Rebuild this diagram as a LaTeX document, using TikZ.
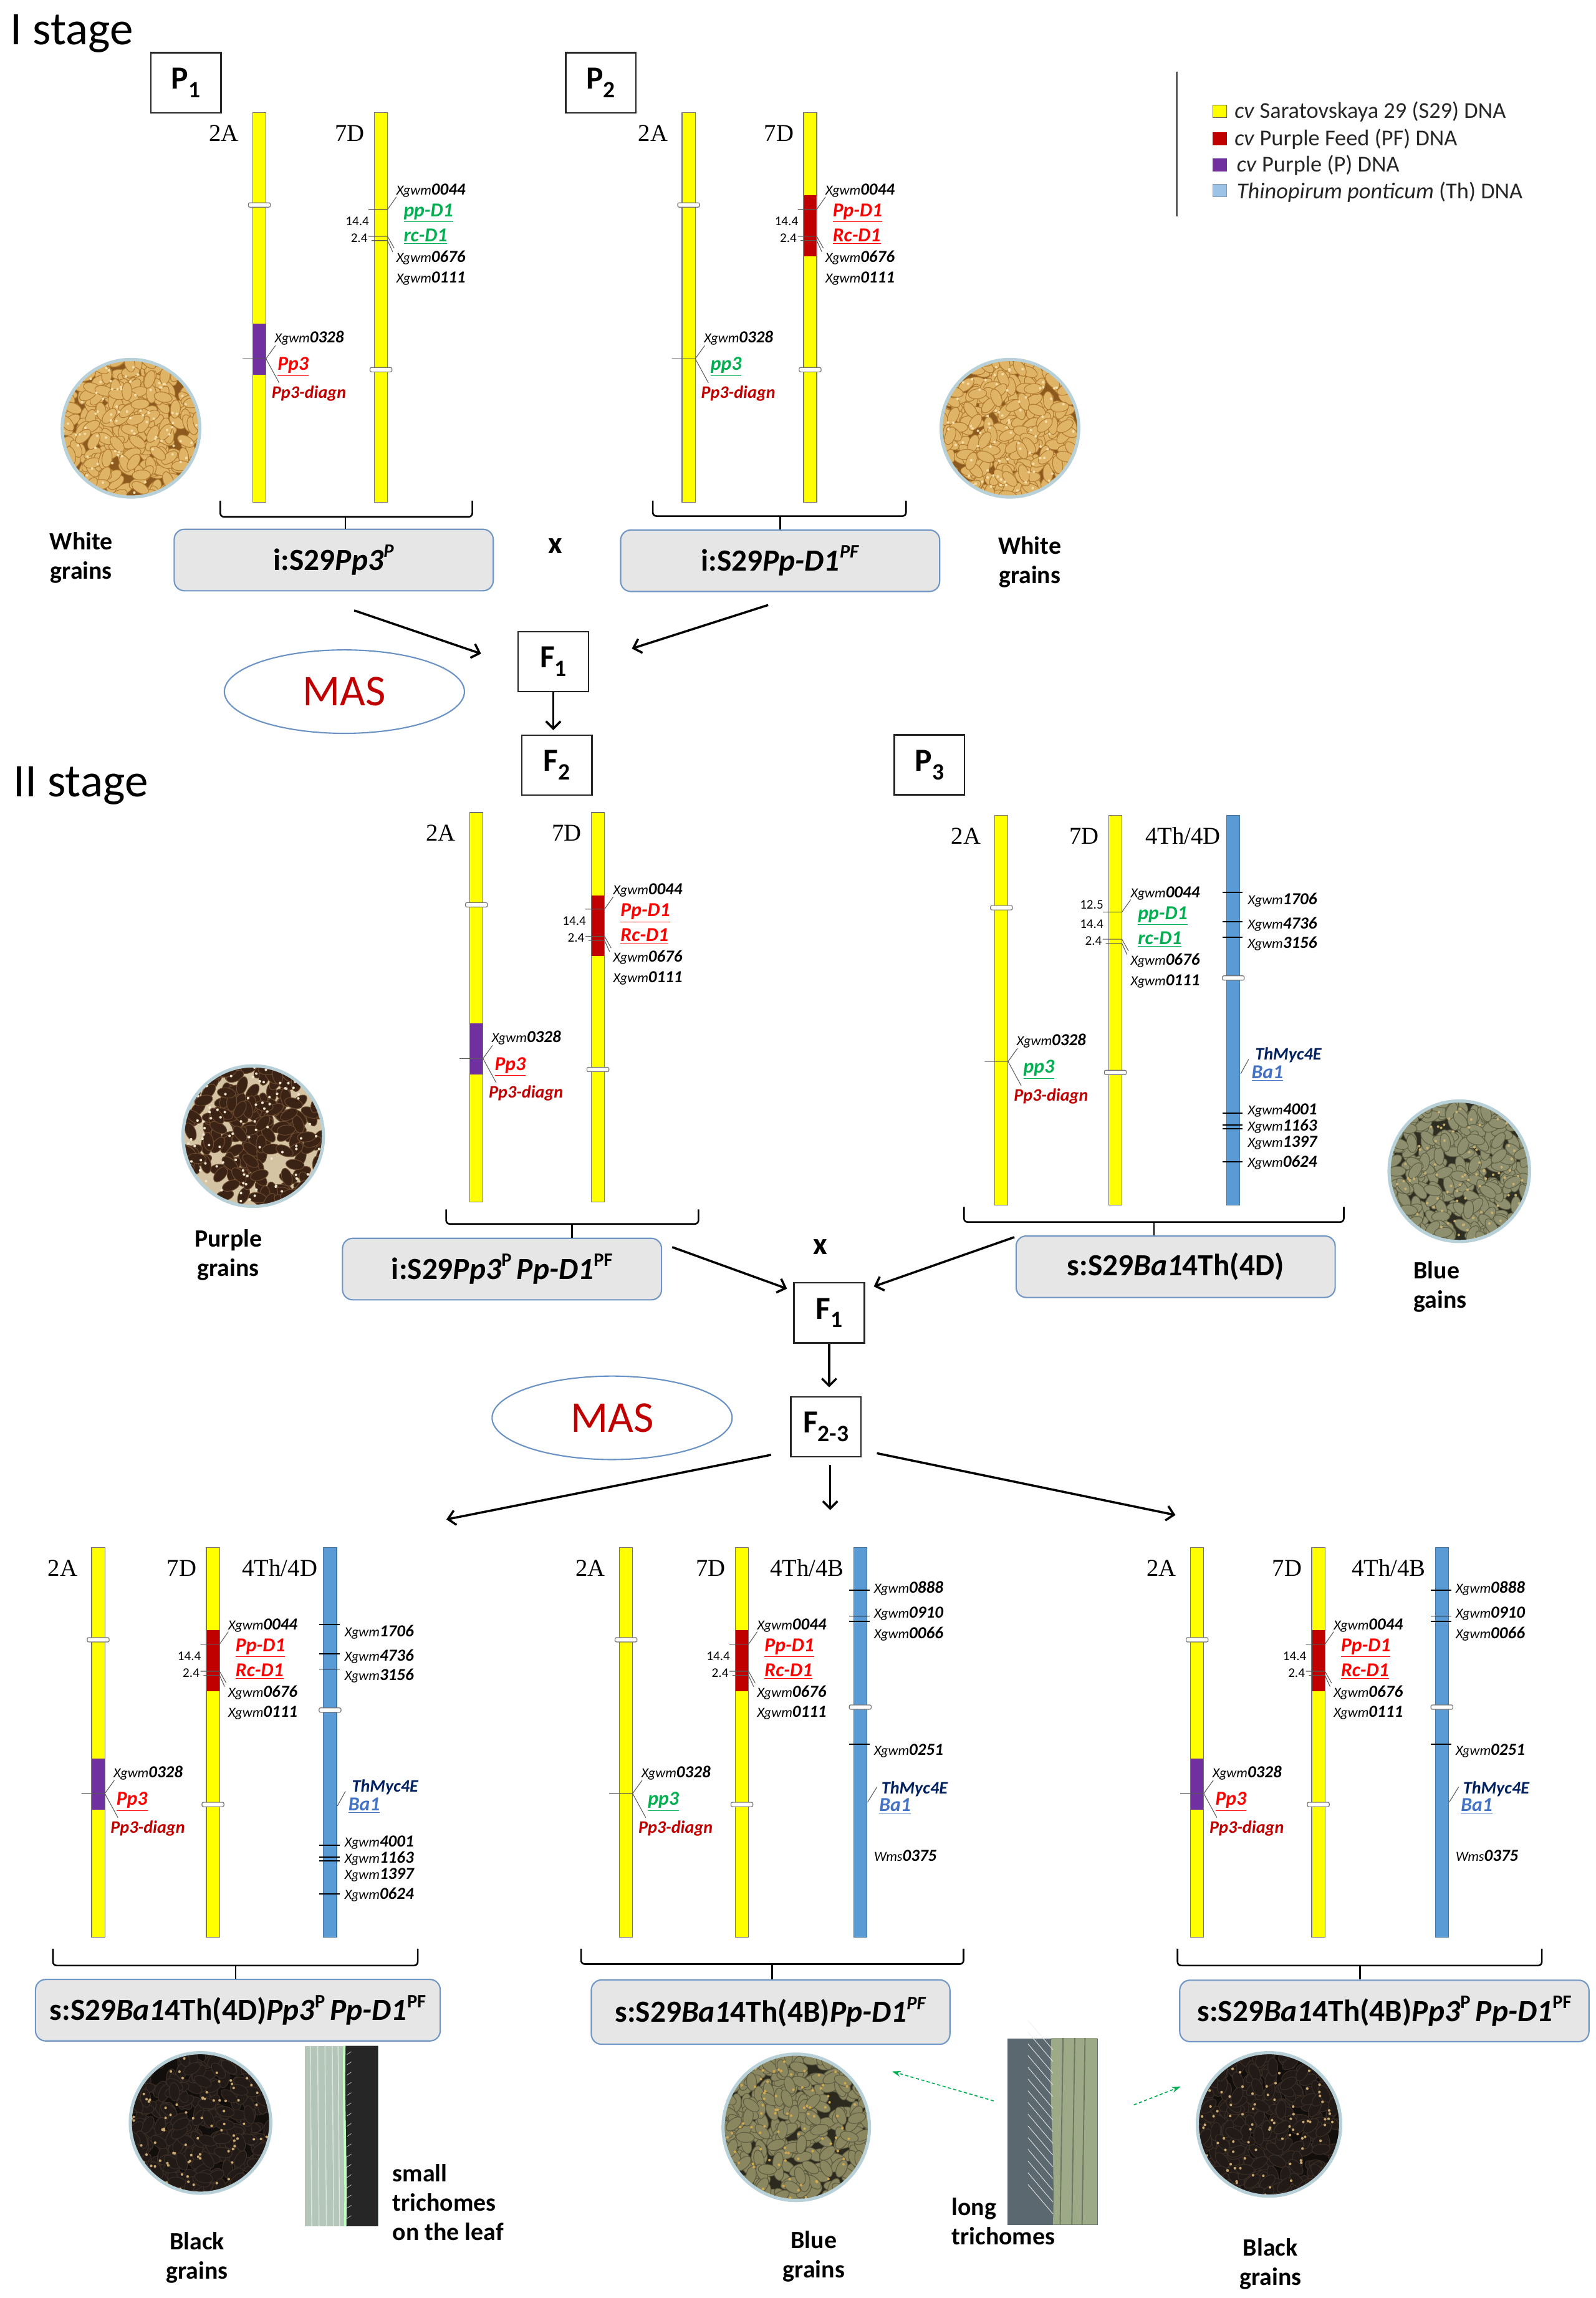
\documentclass[tikz,border=0pt]{standalone}
\usepackage{fontspec}
\setmainfont{Carlito}
\newfontfamily\serifnm{Liberation Serif}
\usetikzlibrary{shapes.geometric,arrows.meta,calc}

\definecolor{cyel}{HTML}{FFFF00}
\definecolor{cpf}{HTML}{C00000}
\definecolor{cpur}{HTML}{7030A0}
\definecolor{cth}{HTML}{5B9BD5}
\definecolor{cthl}{HTML}{9DC3E6}
\definecolor{tgreen}{HTML}{00B050}
\definecolor{tred}{HTML}{FF0000}
\definecolor{tdred}{HTML}{C00000}
\definecolor{tnavy}{HTML}{002060}
\definecolor{tba}{HTML}{4472C4}
\definecolor{boxf}{HTML}{E6E6E6}
\definecolor{boxb}{HTML}{7096C4}
\definecolor{ellc}{HTML}{6A92C4}
\definecolor{ringc}{HTML}{B8D0D8}
\definecolor{leafg}{HTML}{B4C6B8}
\definecolor{leafb}{HTML}{9CAA88}
% grain colours
\definecolor{wBase}{HTML}{8C5A1E}\definecolor{wGr}{HTML}{E0B466}\definecolor{wEd}{HTML}{B07A30}\definecolor{wHi}{HTML}{F4DCA4}
\definecolor{pBase}{HTML}{D4C4A4}\definecolor{pGr}{HTML}{3A2214}\definecolor{pEd}{HTML}{6A4A30}\definecolor{pHi}{HTML}{F0E4CC}
\definecolor{bBase}{HTML}{2E2E22}\definecolor{bGr}{HTML}{8E8F6E}\definecolor{bEd}{HTML}{5E5E44}\definecolor{bHi}{HTML}{C8B070}
\definecolor{kBase}{HTML}{120E0C}\definecolor{kGr}{HTML}{221A16}\definecolor{kEd}{HTML}{3A2E26}\definecolor{kHi}{HTML}{C8A870}
\definecolor{mBase}{HTML}{2C2A1E}\definecolor{mGr}{HTML}{8A8660}\definecolor{mEd}{HTML}{5C5A40}\definecolor{mHi}{HTML}{D0A850}

\newcommand\mkr[2]{{\fontsize{9.5}{10}\selectfont\itshape #1}{\fontsize{11.5}{12}\selectfont\bfseries\itshape #2}}
\newcommand\gn[2]{\textcolor{#1}{\fontsize{13.5}{14}\selectfont\bfseries\itshape\underline{#2}}}
\newcommand\sps[1]{\raisebox{0.42em}{\fontsize{13}{13}\selectfont #1}}
\newcommand\sbs[1]{\raisebox{-0.27em}{\fontsize{16}{16}\selectfont #1}}

\tikzset{
 chrom/.style={draw=black!55, line width=0.5pt, minimum width=9pt, minimum height=266pt, inner sep=0pt, outer sep=0pt, anchor=north west},
 cen/.style={draw=black!55, fill=white, line width=0.5pt, rounded corners=1pt},
 lead/.style={draw=black!65, line width=0.45pt},
 tk/.style={draw=black, line width=0.8pt},
 lbl/.style={anchor=base west, inner sep=0pt, outer sep=0pt},
 cname/.style={anchor=base east, inner sep=0pt, font=\serifnm\fontsize{16.5}{17}\selectfont},
 num/.style={anchor=base east, inner sep=0pt, font=\fontsize{9}{9}\selectfont},
 genbox/.style={draw=boxb, fill=boxf, rounded corners=7pt, line width=0.9pt, minimum height=42pt, inner sep=0pt, font=\fontsize{21}{24}\selectfont\bfseries},
 gbox/.style={draw=black!85, line width=1pt, minimum width=48pt, minimum height=41pt, inner sep=0pt, font=\fontsize{22}{24}\selectfont\bfseries},
 brk/.style={draw=black, line width=1.1pt, rounded corners=2.5pt},
 arr/.style={draw=black, line width=1.5pt, -{Straight Barb[length=5pt,width=10pt]}},
 garr/.style={draw=tgreen, line width=0.7pt, dash pattern=on 2.2pt off 1.6pt, -{Stealth[length=6pt,width=4pt]}},
 masell/.style={ellipse, draw=ellc, line width=0.9pt, minimum width=164pt, minimum height=57pt, inner sep=0pt, font=\fontsize{30}{32}\selectfont, text=tdred},
 captxt/.style={align=center, inner sep=0pt, font=\fontsize{17}{20}\selectfont\bfseries},
}

% 2A chromosome: name, x, y, 1=Pp3 (purple) / 0=pp3
\newcommand\chrA[4]{%
 \node[chrom, fill=cyel] (#1) at (#2,#3) {};
 \begin{scope}[shift={(#2,#3)}]
  \ifnum#4=1 \fill[cpur] (0,144) rectangle (9,179); \fi
  \draw[black!55, line width=0.5pt] (0,0) rectangle (9,266);
  \draw[cen] (-3,61.5) rectangle (12,64.5);
  \draw[lead] (-7,168) -- (9,168) -- (15.5,159);
  \draw[lead] (9,168) -- (18,184.5);
  \node[lbl] (#1-m1) at (15,157) {\mkr{Xgwm}{0328}};
  \ifnum#4=1 \node[lbl] (#1-g1) at (17,176) {\gn{tred}{Pp3}};
  \else \node[lbl] (#1-g1) at (19.5,176) {\gn{tgreen}{pp3}}; \fi
  \node[lbl] (#1-g2) at (13,195) {\textcolor{tdred}{\fontsize{12}{12}\selectfont\bfseries\itshape Pp3-diagn}};
  \node[cname] (#1-n) at (-9.5,19.5) {2A};
 \end{scope}}

% 7D chromosome: name, x, y, 1=PF red / 0=green / 2=green with 12.5
\newcommand\chrD[4]{%
 \node[chrom, fill=cyel] (#1) at (#2,#3) {};
 \begin{scope}[shift={(#2,#3)}]
  \ifnum#4=1 \fill[cpf] (0,56.5) rectangle (9,98); \fi
  \draw[black!55, line width=0.5pt] (0,0) rectangle (9,266);
  \draw[cen] (-3,174) rectangle (12,177);
  \draw[lead] (-4,66) -- (9,66) -- (15,57.5);
  \draw[lead] (-4,84.5) -- (9,84.5) -- (13.5,92.5);
  \draw[lead] (-2,87.3) -- (9,87.3) -- (12.5,95);
  \node[num] (#1-k1) at (-3.5,77) {14.4};
  \node[num] (#1-k2) at (-4.5,88.5) {2.4};
  \ifnum#4=2 \node[num] (#1-k0) at (-3.5,64) {12.5}; \fi
  \node[lbl] (#1-m1) at (15,56) {\mkr{Xgwm}{0044}};
  \ifnum#4=1
   \node[lbl] (#1-g1) at (20,71) {\gn{tred}{Pp-D1}};
   \node[lbl] (#1-g2) at (20,88) {\gn{tred}{Rc-D1}};
  \else
   \node[lbl] (#1-g1) at (20,71) {\gn{tgreen}{pp-D1}};
   \node[lbl] (#1-g2) at (20,88) {\gn{tgreen}{rc-D1}};
  \fi
  \node[lbl] (#1-m2) at (15,102) {\mkr{Xgwm}{0676}};
  \node[lbl] (#1-m3) at (15,116) {\mkr{Xgwm}{0111}};
  \node[cname] (#1-n) at (-6.5,19.5) {7D};
 \end{scope}}

% 4Th/4D chromosome
\newcommand\chrThD[3]{%
 \node[chrom, fill=cth, draw=cth!75!black] (#1) at (#2,#3) {};
 \begin{scope}[shift={(#2,#3)}]
  \draw[cen] (-3,109.5) rectangle (12,112.5);
  \foreach \t in {52.4,72.5,83,203.3,211.5,214,236.5} \draw[tk] (-3,\t) -- (11,\t);
  \node[lbl] (#1-m1) at (14.5,61) {\mkr{Xgwm}{1706}};
  \node[lbl] (#1-m2) at (14.5,77.5) {\mkr{Xgwm}{4736}};
  \node[lbl] (#1-m3) at (14.5,90.5) {\mkr{Xgwm}{3156}};
  \draw[lead] (9.5,176.5) -- (15,166.5);
  \node[lbl] (#1-g1) at (19.5,167) {\textcolor{tnavy}{\fontsize{12}{12}\selectfont\bfseries\itshape ThMyc4E}};
  \node[lbl] (#1-g2) at (17,179.5) {\gn{tba}{Ba1}};
  \node[lbl] (#1-m4) at (14.5,204.5) {\mkr{Xgwm}{4001}};
  \node[lbl] (#1-m5) at (14.5,215.5) {\mkr{Xgwm}{1163}};
  \node[lbl] (#1-m6) at (14.5,226.5) {\mkr{Xgwm}{1397}};
  \node[lbl] (#1-m7) at (14.5,240) {\mkr{Xgwm}{0624}};
  \node[cname] (#1-n) at (-4,19.5) {4Th/4D};
 \end{scope}}

% 4Th/4B chromosome
\newcommand\chrThB[3]{%
 \node[chrom, fill=cth, draw=cth!75!black] (#1) at (#2,#3) {};
 \begin{scope}[shift={(#2,#3)}]
  \draw[cen] (-3,107.5) rectangle (12,110.5);
  \foreach \t in {29.3,46.8,50.3,134.4} \draw[tk] (-3,\t) -- (11,\t);
  \node[lbl] (#1-m1) at (14,31) {\mkr{Xgwm}{0888}};
  \node[lbl] (#1-m2) at (14,48) {\mkr{Xgwm}{0910}};
  \node[lbl] (#1-m3) at (14,62) {\mkr{Xgwm}{0066}};
  \node[lbl] (#1-m4) at (14,142) {\mkr{Xgwm}{0251}};
  \draw[lead] (9.5,174) -- (16,163.5);
  \node[lbl] (#1-g1) at (19,168) {\textcolor{tnavy}{\fontsize{12}{12}\selectfont\bfseries\itshape ThMyc4E}};
  \node[lbl] (#1-g2) at (17.5,180) {\gn{tba}{Ba1}};
  \node[lbl] (#1-m5) at (14,214) {\mkr{Wms}{0375}};
  \node[cname] (#1-n) at (-6.5,19.5) {4Th/4B};
 \end{scope}}

% bracket: xL xR yTop yH xM box
\newcommand\brk[6]{%
 \draw[brk] (#1,#3) -- (#1,#4) -- (#2,#4) -- (#2,#3);
 \coordinate (#6-bt) at (#5,#4);
 \draw[brk] (#6-bt) -- (#6-bt |- #6.north);}

% dish of grains: name cx cy r colour-prefix seed count
\newcommand\dish[7]{%
 \node[circle, inner sep=0pt, minimum size={2*#4pt}] (#1) at (#2,#3) {};
 \begin{scope}
  \clip (#2,#3) circle[radius=#4];
  \fill[#5Base] (#2,#3) circle[radius=#4];
  \pgfmathsetseed{#6}
  \foreach \k in {1,...,#7}{
   \pgfmathsetmacro\gx{#2+(2*rnd-1)*#4}
   \pgfmathsetmacro\gy{#3+(2*rnd-1)*#4}
   \pgfmathsetmacro\ga{180*rnd}
   \filldraw[fill=#5Gr, draw=#5Ed, line width=0.45pt, rotate around={\ga:(\gx,\gy)}] (\gx,\gy) ellipse[x radius=6.3, y radius=3.4];
  }
  \foreach \k in {1,...,110}{
   \pgfmathsetmacro\gx{#2+(2*rnd-1)*#4}
   \pgfmathsetmacro\gy{#3+(2*rnd-1)*#4}
   \fill[#5Hi] (\gx,\gy) circle[radius=0.9];
  }
 \end{scope}
 \draw[ringc, line width=2.2pt] (#2,#3) circle[radius=#4];}

\begin{document}
\begin{tikzpicture}[x=1pt,y=-1pt]
\useasboundingbox (0,0) rectangle (1090,1569.6);

% ---------- titles
\node[anchor=base west, inner sep=0pt, font=\fontsize{32}{34}\selectfont] (st1) at (7,30.5) {I stage};
\node[anchor=base west, inner sep=0pt, font=\fontsize{32}{34}\selectfont] (st2) at (9,544) {II stage};

% ---------- legend
\draw[black!65, line width=1pt] (804,49) -- (804,148);
\node[draw=black!60, line width=0.4pt, fill=cyel, minimum width=9.5pt, minimum height=8.5pt, inner sep=0pt, anchor=south west] (lg1) at (828.5,80.5) {};
\node[draw=cpf, line width=0.4pt, fill=cpf, minimum width=9.5pt, minimum height=8.5pt, inner sep=0pt, anchor=south west] (lg2) at (828.5,99.2) {};
\node[draw=cpur, line width=0.4pt, fill=cpur, minimum width=9.5pt, minimum height=8.5pt, inner sep=0pt, anchor=south west] (lg3) at (828.5,117) {};
\node[draw=cthl!80!black, line width=0.3pt, fill=cthl, minimum width=9.5pt, minimum height=8.5pt, inner sep=0pt, anchor=south west] (lg4) at (828.5,134.5) {};
\node[lbl, font=\fontsize{15.5}{16}\selectfont, text=black!85] (lt1) at (843.5,80.5) {\textit{cv} Saratovskaya 29 (S29) DNA};
\node[lbl, font=\fontsize{15.5}{16}\selectfont, text=black!85] (lt2) at (843.5,99.5) {\textit{cv} Purple Feed (PF) DNA};
\node[lbl, font=\fontsize{15.5}{16}\selectfont, text=black!85] (lt3) at (845,117.5) {\textit{cv} Purple (P) DNA};
\node[lbl, font=\fontsize{15.5}{16}\selectfont, text=black!85] (lt4) at (845,135.5) {\textit{Thinopirum ponticum} (Th) DNA};

% ---------- generation boxes
\node[gbox] (P1) at (127,56.5) {P\sbs{1}};
\node[gbox] (P2) at (410.5,56.5) {P\sbs{2}};
\node[gbox] (F1a) at (378,452) {F\sbs{1}};
\node[gbox] (F2) at (380.5,522.7) {F\sbs{2}};
\node[gbox] (P3) at (635,522.4) {P\sbs{3}};
\node[gbox] (F1b) at (566.5,896.7) {F\sbs{1}};
\node[gbox] (F23) at (564.3,974.6) {F\sbs{2-3}};

% ---------- chromosomes
\chrA{p1a}{172.7}{77}{1}
\chrD{p1d}{255.8}{77}{0}
\chrA{p2a}{466}{77}{0}
\chrD{p2d}{549}{77}{1}
\chrA{f2a}{321}{555}{1}
\chrD{f2d}{404}{555}{1}
\chrA{p3a}{679.7}{557}{0}
\chrD{p3d}{757.5}{557}{2}
\chrThD{p3t}{838.1}{557}
\chrA{b1a}{62.6}{1057}{1}
\chrD{b1d}{141}{1057}{1}
\chrThD{b1t}{221}{1057}
\chrA{b2a}{423.2}{1057}{0}
\chrD{b2d}{502.4}{1057}{1}
\chrThB{b2t}{583.2}{1057}
\chrA{b3a}{813.4}{1057}{1}
\chrD{b3d}{896.2}{1057}{1}
\chrThB{b3t}{980.6}{1057}

% ---------- genotype boxes
\node[genbox, minimum width=218pt] (i1) at (228,382.5) {i:S29\textit{Pp3}\sps{\textit{P}}\hspace{46pt}};
\node[genbox, minimum width=218pt] (i2) at (533,383) {i:S29\textit{Pp-D1}\sps{\textit{PF}}\hspace{62pt}};
\node[genbox, minimum width=218pt] (i3) at (343,866.8) {i:S29\textit{Pp3}\sps{P}\,\textit{Pp-D1}\sps{PF}\hspace{16pt}};
\node[genbox, minimum width=218pt] (s1) at (803.2,865.2) {s:S29\textit{Ba1}4Th(4D)\hspace{11pt}};
\node[genbox, minimum width=276.5pt] (b1) at (162.5,1373) {s:S29\textit{Ba1}4Th(4D)\textit{Pp3}\sps{P}\,\textit{Pp-D1}\sps{PF}};
\node[genbox, minimum width=245pt, minimum height=44pt] (b2) at (526.5,1374.3) {s:S29\textit{Ba1}4Th(4B)\textit{Pp-D1}\sps{\textit{PF}}};
\node[genbox, minimum width=279.6pt] (b3) at (945.8,1373.5) {s:S29\textit{Ba1}4Th(4B)\textit{Pp3}\sps{P}\,\textit{Pp-D1}\sps{PF}};

% ---------- brackets
\brk{150.5}{322.7}{342}{353}{236}{i1}
\brk{446}{619}{342}{352.5}{533}{i2}
\brk{304.8}{477.2}{826}{836}{390.9}{i3}
\brk{658.6}{918.1}{824.4}{834.7}{788.4}{s1}
\brk{36.2}{285.4}{1331}{1342.5}{161}{b1}
\brk{397}{658.3}{1331}{1341.5}{527.6}{b2}
\brk{804.5}{1053.4}{1331}{1342.5}{929.3}{b3}

% ---------- crosses and MAS
\node[inner sep=0pt, font=\fontsize{21}{21}\selectfont\bfseries] (x1) at (379.3,373) {x};
\node[inner sep=0pt, font=\fontsize{21}{21}\selectfont\bfseries] (x2) at (560.5,851.8) {x};
\node[masell] (mas1) at (235.3,472.4) {MAS};
\node[masell] (mas2) at (418.2,968.4) {MAS};

% ---------- arrows
\draw[arr] ($(i1.south)+(14,13)$) -- ($(F1a.west)+(-24.8,-5.5)$);
\draw[arr] ($(i2.south)+(-8.2,8.8)$) -- ($(F1a.east)+(29.2,-9)$);
\draw[arr, shorten >=3pt] (F1a.south) -- (F1a.south |- F2.north);
\draw[arr] ($(i3.east)+(6.8,-15)$) -- ($(F1b.west)+(-4.3,-16.5)$);
\draw[arr] ($(s1.west)+(-0.7,-20.2)$) -- ($(F1b.east)+(6,-18)$);
\draw[arr, shorten >=6pt] (F1b.south) -- (F1b.south |- F23.north);
\draw[arr] ($(F23.west)+(-13,19.1)$) -- ($(F23.west)+(-234.8,63.2)$);
\draw[arr] ($(F23.south)+(2.9,4.9)$) -- ($(F23.south)+(2.9,35.8)$);
\draw[arr] ($(F23.east)+(10.3,18)$) -- ($(F23.east)+(214.3,60.2)$);

% ---------- grain dishes
\dish{dP1}{89.5}{292.5}{47}{w}{11}{340}
\dish{dP2}{690}{292.5}{47}{w}{23}{340}
\dish{dPu}{173}{776}{48}{p}{37}{230}
\dish{dP3}{997}{800}{48}{b}{41}{340}
\dish{dBL}{137}{1450}{48}{k}{53}{300}
\dish{dBM}{544}{1453}{50}{m}{67}{340}
\dish{dBR}{867}{1451}{49}{k}{71}{300}

% ---------- leaf photos
\node[rectangle, inner sep=0pt, minimum width=50.3pt, minimum height=123.2pt, fill=leafg, anchor=north west] (leafA) at (208,1397.3) {};
\begin{scope}[shift={(208,1397.3)}]
 \foreach \s in {4,9,14,19,23} \draw[white!55!leafg, line width=0.6pt] (\s,0) -- (\s+1,123.2);
 \fill[black!85] (28,0) .. controls (27,40) and (29.5,80) .. (28.5,123.2) -- (50.3,123.2) -- (50.3,0) -- cycle;
 \draw[green!25!white, line width=1.6pt] (27.3,0) .. controls (26.3,40) and (28.8,80) .. (27.8,123.2);
 \foreach \h in {6,13,...,120} \draw[white!80!black, line width=0.3pt] (29,\h) -- (32,\h-2);
\end{scope}
\node[rectangle, inner sep=0pt, minimum width=61.4pt, minimum height=127.5pt, fill=black!60!gray!80!cyan, anchor=north west] (leafB) at (688.3,1392) {};
\begin{scope}[shift={(688.3,1392)}]
 \fill[leafb] (30,0) .. controls (28,40) and (33,90) .. (31,127.5) -- (61.4,127.5) -- (61.4,0) -- cycle;
 \foreach \s in {38,46,53} \draw[black!30!leafb, line width=0.8pt] (\s,0) -- (\s-2,127.5);
 \foreach \h in {8,16,...,124} \draw[white!85!gray, line width=0.35pt] (31,\h) -- (14,\h-20);
\end{scope}

% ---------- captions
\node[captxt] (wg1) at (55.5,381) {White\\grains};
\node[captxt] (wg2) at (703.5,384) {White\\grains};
\node[captxt] (pg) at (156,857) {Purple\\grains};
\node[captxt, align=left, anchor=west] (bg1) at (965.6,879) {Blue\\gains};
\node[captxt] (kg1) at (134.7,1542) {Black\\grains};
\node[captxt, align=left, anchor=north west] (smt) at (268,1478) {small\\trichomes\\on the leaf};
\node[captxt] (bg2) at (556,1541.3) {Blue\\grains};
\node[captxt, align=left, anchor=north west] (lgt) at (650,1501) {long\\trichomes};
\node[captxt] (kg2) at (868,1546.5) {Black\\grains};

% ---------- green dashed arrows
\draw[garr] ($(leafB.west)+(-9.4,-21)$) -- ($(dBM.east)+(15.2,-38.2)$);
\draw[garr] ($(leafB.east)+(24.5,-18.25)$) -- ($(dBR.west)+(-11.2,-25.8)$);
\end{tikzpicture}
\end{document}
